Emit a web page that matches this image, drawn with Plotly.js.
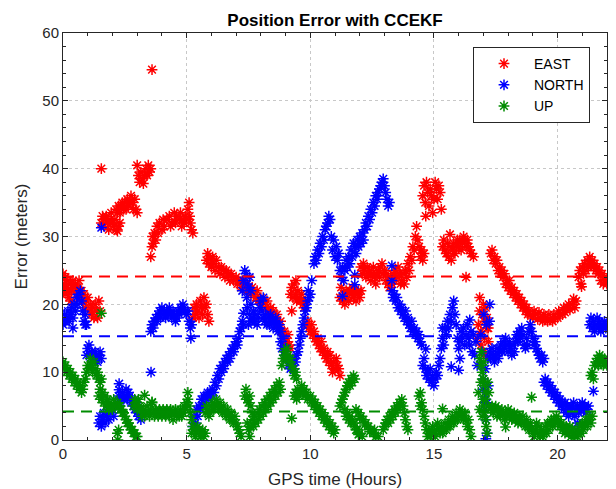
<!DOCTYPE html>
<html>
<head>
<meta charset="utf-8">
<script src="https://cdn.plot.ly/plotly-3.0.1.min.js"></script>
<style>html,body{margin:0;padding:0;background:#fff;}#chart{width:616px;height:489px;}</style>
</head>
<body>
<div id="chart"></div>
<script>
// ---- Data (time in hours, error in meters) ----
const seriesNames = ["EAST", "NORTH", "UP"];
const seriesColors = ["#ff0000", "#0000ff", "#008c00"];

const eastPts = [
[0.00,24.5],[0.05,23.0],[0.10,24.0],[0.15,22.5],[0.20,23.5],[0.25,21.0],[0.30,23.0],[0.35,22.0],[0.40,23.5],[0.45,22.5],[0.50,23.0],[0.55,21.5],[0.60,22.5],[0.65,23.5],[0.70,21.0],[0.75,22.0],[0.80,20.5],[0.85,21.5],[0.90,19.5],[0.95,20.5],[1.00,21.0],[1.05,19.0],[1.10,20.0],[1.15,18.5],[1.20,19.5],[1.25,18.0],[1.30,20.0],[1.35,19.0],[1.40,18.0],[1.45,20.5],[1.50,19.0],
[0.02,22.0],[0.12,21.5],[0.22,22.0],[0.32,20.5],
[1.55,40.0],
[1.55,32.0],[1.60,33.0],[1.65,31.5],[1.70,32.5],[1.75,33.0],[1.80,32.0],[1.85,31.0],[1.90,32.5],[1.95,33.5],[2.00,32.0],[2.05,31.5],[2.10,32.5],[2.15,31.0],[2.20,30.8],[2.25,31.5],[2.30,32.0],
[2.15,34.0],[2.20,33.5],[2.25,34.5],[2.30,33.5],[2.35,34.5],[2.40,35.0],[2.45,34.0],[2.50,35.0],[2.55,34.0],[2.60,35.5],[2.65,34.5],[2.70,35.0],[2.75,36.0],[2.80,35.0],[2.85,34.0],[2.90,35.5],[2.95,34.0],[3.00,33.5],
[3.00,40.5],[3.05,39.0],[3.10,38.0],[3.15,39.5],[3.20,38.5],[3.25,37.8],[3.30,39.0],[3.35,40.0],[3.40,39.0],[3.45,40.5],[3.50,39.5],[3.55,40.0],
[3.60,54.6],
[3.55,27.0],[3.60,28.5],[3.62,30.0],[3.65,29.0],[3.70,30.5],[3.75,29.5],[3.80,31.5],[3.85,30.5],[3.90,32.0],[4.00,31.0],[4.05,32.5],[4.10,31.5],[4.20,32.5],[4.30,33.0],[4.35,31.5],[4.40,32.0],[4.50,33.5],[4.55,32.0],[4.60,33.0],[4.70,32.5],[4.75,33.5],[4.80,31.5],[4.85,32.5],[4.90,32.0],[4.95,33.0],[5.00,32.5],[5.05,34.0],[5.10,35.0],[5.12,33.0],[5.15,32.0],[5.20,31.0],[5.25,30.5],
[5.25,18.0],[5.30,19.5],[5.35,18.5],[5.40,20.0],[5.45,19.0],[5.50,18.0],[5.55,20.5],[5.60,19.5],[5.65,18.5],[5.70,21.0],[5.75,19.5],[5.80,20.0],[5.85,18.5],[5.90,17.5],
[5.80,26.5],[5.85,27.5],[5.90,26.0],[5.95,26.8],[6.00,25.5],[6.05,27.0],[6.10,26.0],[6.15,25.0],[6.20,26.5],[6.30,25.5],[6.35,24.5],[6.40,25.5],[6.50,25.0],[6.55,24.0],[6.60,25.0],[6.70,24.5],[6.75,23.5],[6.80,24.5],[6.90,23.5],[7.00,24.0],[7.05,23.0],[7.10,23.5],[7.20,22.5],[7.25,23.5],[7.30,22.5],[7.40,23.0],[7.45,22.0],[7.50,22.5],[7.60,21.5],[7.65,22.5],[7.70,21.5],[7.80,21.0],[7.85,22.0],[7.90,20.5],[8.00,21.0],[8.05,20.0],[8.10,20.5],[8.20,19.5],[8.25,20.5],[8.30,19.0],[8.40,19.5],[8.45,18.5],[8.50,19.0],[8.60,18.0],[8.65,18.5],[8.70,17.0],[8.75,16.5],[8.80,17.5],[8.85,16.0],[8.90,15.5],[8.95,16.0],[9.00,14.5],[9.05,14.5],[9.10,15.5],[9.15,14.0],[9.20,13.5],
[9.20,21.5],[9.25,22.5],[9.30,21.0],[9.35,23.0],[9.40,21.5],[9.45,20.5],[9.50,22.0],[9.55,21.0],[9.60,20.5],[9.65,21.5],[9.70,20.0],[9.75,19.5],[9.80,20.5],[9.42,23.5],[9.25,19.0],
[9.85,17.0],[9.90,17.5],[9.95,16.5],[10.00,16.0],[10.05,17.0],[10.10,15.5],[10.15,16.0],[10.20,15.0],[10.25,14.5],[10.30,15.0],[10.35,14.0],[10.40,13.5],[10.45,14.5],[10.50,13.0],[10.55,13.5],[10.60,12.5],[10.65,12.0],[10.70,13.0],[10.75,11.5],[10.80,12.5],[10.85,11.0],[10.90,10.0],[10.95,11.5],[11.00,10.5],[11.05,12.0],[11.10,11.0],[11.15,10.5],[11.20,9.5],
[11.20,21.0],[11.25,22.5],[11.30,20.5],[11.35,21.5],[11.40,20.0],[11.45,22.0],[11.50,21.0],[11.55,20.5],[11.60,22.0],[11.65,21.5],[11.70,22.5],[11.75,21.0],[11.80,22.0],[11.85,20.5],[11.90,21.5],[11.95,22.0],[12.00,21.0],[12.05,22.0],
[12.05,25.5],[12.10,24.5],[12.15,26.0],[12.20,25.0],[12.25,24.0],[12.30,25.5],[12.35,24.5],[12.40,25.0],[12.45,23.5],[12.50,24.5],[12.55,25.5],[12.60,24.0],[12.65,23.0],[12.70,24.5],[12.75,25.0],[12.80,24.0],[12.85,25.5],[12.90,26.0],[12.95,24.5],[13.00,25.0],[13.05,23.5],[13.10,24.5],[13.15,23.0],[13.20,22.5],[13.25,24.0],[13.30,23.0],[13.35,24.5],[13.40,23.5],[13.45,25.0],[13.50,24.0],[13.55,25.5],[13.60,24.5],[13.65,23.0],[13.70,23.5],[13.75,24.5],[13.80,23.0],[13.85,25.0],[13.90,24.0],[13.95,26.0],[14.00,25.0],[14.05,27.0],[14.10,26.5],[14.15,28.5],[14.20,28.0],[14.25,30.0],[14.30,31.5],[14.35,29.5],[14.40,28.5],[14.45,27.0],[14.50,28.0],[14.55,26.5],[14.60,27.5],
[14.55,36.0],[14.60,37.5],[14.65,35.0],[14.70,38.0],[14.75,36.5],[14.80,34.5],[14.85,37.0],[14.90,36.0],[14.95,33.5],[15.00,35.5],[15.05,38.0],[15.10,37.0],[15.15,35.5],[15.20,37.5],[15.25,36.5],[15.30,34.0],[14.67,33.0],
[15.35,28.5],[15.40,29.5],[15.45,28.0],[15.50,27.5],[15.55,29.0],[15.60,27.0],[15.65,28.5],[15.70,26.5],[15.75,28.0],[15.80,29.0],[15.85,27.5],[15.90,28.5],[15.95,29.5],[16.00,28.5],[16.05,29.5],[16.10,28.0],[16.15,29.0],[16.20,30.0],[16.25,29.5],[16.30,28.5],[16.35,29.5],[16.40,28.5],[16.45,28.0],[16.50,27.5],[15.65,30.3],[16.30,24.0],[16.60,27.0],
[16.75,15.0],[16.80,17.0],[16.85,19.0],[16.90,16.0],[16.95,18.5],[17.00,20.0],[17.05,17.5],[17.10,19.5],[17.15,16.5],[17.20,14.5],[17.00,13.0],[16.90,14.0],[17.10,12.5],[17.05,15.0],[16.85,21.0],[17.15,18.0],[17.20,16.5],
[17.30,27.5],[17.35,28.0],[17.40,26.5],[17.45,27.0],[17.50,26.0],[17.55,26.5],[17.60,25.0],[17.65,25.5],[17.70,24.5],[17.75,25.0],[17.80,24.0],[17.85,24.5],[17.90,23.0],[17.95,23.5],[18.00,22.5],[18.05,23.5],[18.10,22.0],[18.15,22.5],[18.20,21.5],[18.25,22.0],[18.30,21.0],[18.35,21.5],[18.40,20.5],[18.45,21.0],[18.50,20.0],[18.55,20.5],[18.60,19.5],[18.65,20.0],[18.70,19.0],[18.75,19.5],[18.80,18.5],[18.85,19.0],[18.90,18.5],[19.00,18.0],[19.05,19.0],[19.10,18.5],[19.20,17.8],[19.25,18.8],[19.30,18.0],[19.40,17.5],[19.45,18.5],[19.50,18.0],[19.60,17.5],[19.65,18.5],[19.70,17.8],[19.80,17.5],[19.85,18.5],[19.90,18.0],[20.00,18.0],[20.05,19.0],[20.10,18.5],[20.20,18.5],[20.25,19.5],[20.30,18.8],[20.40,19.5],[20.45,20.0],[20.50,19.2],[20.60,20.0],[20.65,20.8],[20.70,19.5],[20.75,20.5],
[20.85,24.0],[20.90,25.0],[20.95,23.0],[21.00,25.5],[21.05,24.5],[21.10,26.0],[21.15,25.0],[21.20,26.5],[21.25,25.5],[21.30,27.0],[21.35,26.0],[21.40,26.5],[21.45,25.5],[21.50,26.0],[21.55,25.0],[21.60,25.5],[21.65,24.5],[21.70,25.0],[21.75,23.5],[21.80,24.5],[21.85,23.0],[21.90,24.0],[21.95,23.5],[22.00,23.0],[20.97,22.6]
];

const northPts = [
[0.00,17.0],[0.05,18.5],[0.10,17.5],[0.15,18.0],[0.20,19.0],[0.25,17.5],[0.30,18.5],[0.35,19.5],[0.40,18.0],[0.45,20.0],[0.50,19.0],[0.55,21.0],[0.60,20.0],[0.65,21.5],[0.70,22.0],[0.75,20.5],[0.80,19.0],[0.85,17.5],[0.90,18.5],[0.95,17.0],[0.40,16.5],[0.90,17.0],
[0.95,12.5],[1.00,13.5],[1.05,14.0],[1.10,12.5],[1.15,13.0],[1.20,11.5],[1.25,12.0],[1.30,13.0],[1.35,12.5],[1.40,11.5],[1.45,12.5],[1.50,13.0],[1.55,12.0],
[1.55,31.3],
[1.45,2.5],[1.50,3.5],[1.55,2.0],[1.60,3.0],[1.65,4.0],[1.70,2.5],[1.75,3.5],[1.80,4.5],[1.85,3.0],[1.90,4.0],[1.95,5.0],[2.00,4.5],[2.05,3.5],[2.10,5.0],
[2.20,5.5],[2.25,6.5],[2.30,5.0],[2.35,6.0],[2.40,7.0],[2.45,6.0],[2.50,6.5],[2.55,7.5],[2.60,6.0],[2.65,7.0],[2.70,6.5],[2.75,5.5],[2.80,6.0],[2.85,5.0],[2.90,4.5],[2.95,5.5],[3.00,4.0],[3.05,3.5],[3.10,4.5],[3.15,3.0],[2.27,8.3],[2.27,7.4],
[3.56,10.0],
[3.55,16.0],[3.60,17.0],[3.65,16.5],[3.70,17.5],[3.75,18.0],[3.80,17.5],[3.85,18.5],[3.90,19.0],[3.95,18.0],[4.00,19.5],[4.05,18.5],[4.10,19.0],[4.15,18.0],[4.20,19.0],[4.25,18.5],[4.30,19.5],[4.35,18.5],[4.40,18.0],[4.45,19.0],[4.50,18.5],[4.55,17.5],[4.60,18.0],[4.65,19.0],[4.70,18.5],[4.75,19.5],[4.80,19.0],[4.85,20.0],[4.90,19.5],[4.95,19.0],[5.00,18.5],[5.05,19.0],[5.10,17.5],[5.15,16.5],[5.20,17.0],[5.17,15.0],
[5.25,2.0],[5.30,3.5],[5.35,2.5],[5.40,4.5],[5.45,3.5],[5.50,5.0],[5.55,4.5],[5.60,6.0],[5.65,5.0],[5.70,6.5],[5.75,5.5],[5.80,6.5],[5.85,7.0],[5.90,6.0],[5.95,7.0],[6.00,6.5],[6.05,7.5],[6.10,7.0],[6.15,8.5],[6.20,8.0],[6.25,9.5],[6.30,9.0],[6.35,10.5],[6.40,10.0],[6.45,11.0],[6.50,10.5],[6.55,11.5],[6.60,12.0],[6.65,11.5],[6.70,12.5],[6.75,12.0],[6.80,13.0],[6.85,13.5],[6.90,13.0],[6.95,14.0],[7.00,14.5],[7.05,14.0],[7.10,15.0],[7.15,16.0],[7.20,16.5],[7.25,17.5],[7.30,17.0],
[7.25,22.0],[7.30,23.5],[7.35,25.0],[7.40,24.5],[7.45,23.0],[7.50,22.5],[7.55,24.0],[7.60,22.0],[7.43,21.0],[7.60,20.0],[7.30,18.7],[7.45,19.5],
[7.50,17.0],[7.55,18.5],[7.60,17.5],[7.65,18.0],[7.70,19.0],[7.75,17.5],[7.80,18.5],[7.85,17.0],[7.90,18.0],[7.95,19.5],[8.00,20.5],[8.05,19.0],[8.10,18.0],[8.15,17.5],[8.20,18.5],[8.25,17.0],[8.30,18.0],[8.35,17.0],[8.40,18.5],[8.45,17.5],[8.50,16.5],[8.55,17.5],[8.60,18.0],[8.65,17.0],[8.70,16.0],[8.75,17.0],[8.80,16.0],[8.10,21.0],
[8.80,14.5],[8.85,13.5],[8.90,15.0],[8.95,12.5],[9.00,13.5],[9.05,12.0],[9.10,11.0],[9.15,12.0],[9.20,10.5],[9.25,11.5],[9.30,12.0],[9.35,10.5],[9.40,11.5],[9.45,12.5],
[9.50,13.0],[9.55,14.0],[9.60,15.0],[9.65,16.0],[9.70,17.0],[9.75,18.0],[9.80,19.0],[9.85,19.5],[9.90,20.5],[9.95,21.0],[10.00,21.5],[9.92,22.0],[10.06,23.5],
[10.15,26.0],[10.20,27.0],[10.25,26.5],[10.30,28.0],[10.35,27.5],[10.40,29.0],[10.45,28.5],[10.50,30.0],[10.55,29.5],[10.60,31.0],[10.65,31.5],[10.70,32.0],[10.75,33.0],[10.80,32.5],
[10.85,30.0],[10.90,28.0],[10.95,29.5],[11.00,27.0],[11.05,28.5],[11.10,26.5],[11.15,27.5],[11.20,25.0],[11.25,24.0],[11.30,25.5],[11.35,23.5],[11.40,25.0],[11.45,26.5],[11.50,25.5],[11.55,27.0],[11.60,26.0],[11.65,28.0],[11.70,27.0],[11.75,29.0],[11.80,28.5],[11.85,27.5],[11.90,29.5],[11.95,28.5],[12.00,30.0],[12.05,29.0],[12.10,30.5],[12.15,29.5],[12.20,31.0],[11.30,21.2],[11.80,24.3],[11.80,22.9],
[12.25,32.0],[12.30,31.5],[12.35,33.0],[12.40,32.5],[12.45,34.0],[12.50,33.5],[12.55,35.0],[12.60,34.5],[12.65,36.0],[12.70,35.5],[12.75,36.5],[12.80,37.0],[12.85,37.5],[12.90,38.0],[12.95,38.5],[13.00,37.5],[13.05,36.5],[13.10,35.5],[13.15,34.5],[13.20,35.0],
[13.30,25.7],[13.30,23.5],
[13.30,22.0],[13.35,21.0],[13.40,21.5],[13.45,20.5],[13.50,21.0],[13.55,19.5],[13.60,20.0],[13.65,19.0],[13.70,19.5],[13.75,18.5],[13.80,18.0],[13.85,19.0],[13.90,17.5],[13.95,18.0],[14.00,17.0],[14.05,16.5],[14.10,17.5],[14.15,16.0],[14.20,16.5],[14.25,15.5],[14.30,16.0],[14.35,15.0],[14.40,15.5],[14.45,14.5],[14.50,14.0],
[14.55,11.0],[14.60,12.0],[14.65,10.5],[14.70,9.5],[14.75,10.0],[14.80,9.0],[14.85,10.5],[14.90,8.5],[14.95,9.5],[15.00,8.0],[15.05,9.0],[15.10,10.0],[15.15,9.5],[15.20,11.0],[14.67,13.4],
[15.25,12.0],[15.30,13.5],[15.35,15.0],[15.40,14.0],[15.45,16.5],[15.50,15.5],[15.55,17.5],[15.60,16.5],[15.65,18.5],[15.70,17.5],[15.75,19.5],[15.80,20.5],[15.85,18.5],[15.90,17.0],[15.95,15.0],[16.00,13.5],[16.05,12.0],[15.35,16.5],[15.70,10.8],[16.00,10.3],
[16.05,14.5],[16.10,16.0],[16.15,15.0],[16.20,16.5],[16.25,14.0],[16.30,15.5],[16.35,17.0],[16.40,15.0],[16.45,14.0],[16.50,16.0],[16.55,13.0],[16.60,15.5],[16.65,12.5],[16.70,14.5],[16.75,11.0],[16.45,17.7],[17.26,20.0],
[16.90,15.5],[16.95,13.0],[17.00,9.0],[17.05,6.0],[17.10,3.0],[17.15,1.0],[17.10,0.2],[17.05,4.5],[16.98,7.5],[17.12,17.0],[17.02,18.5],[16.92,11.0],[17.08,10.5],[17.18,12.0],[17.20,8.0],[17.15,5.5],[17.25,17.5],
[17.25,13.0],[17.30,12.0],[17.35,13.5],[17.40,12.5],[17.45,11.5],[17.50,12.5],[17.55,13.5],[17.60,12.0],[17.65,13.0],[17.70,14.0],[17.75,13.0],[17.80,14.5],[17.85,13.5],[17.90,15.0],[17.95,14.0],[18.00,13.0],[18.05,14.5],[18.10,13.5],[18.15,12.5],[18.20,14.0],[18.25,13.0],[18.30,14.5],[18.35,15.5],[18.40,14.5],[18.45,16.0],[18.50,15.0],[18.55,16.5],[18.60,15.5],[18.65,14.0],[18.70,13.5],[18.75,15.0],[18.80,14.0],[18.85,16.0],[18.90,17.0],[18.95,16.0],[19.00,15.0],[19.05,14.0],[19.10,14.5],[19.15,13.5],[19.20,13.0],[19.25,12.5],[19.30,12.0],[19.35,12.5],[19.40,11.5],[19.45,12.0],
[19.45,8.5],[19.50,9.0],[19.55,8.0],[19.60,8.5],[19.65,7.5],[19.70,8.0],[19.75,7.0],[19.80,7.5],[19.85,6.5],[19.90,7.0],[19.95,6.0],[20.00,6.5],[20.05,5.5],[20.10,6.0],[20.15,5.0],[20.20,5.5],[20.25,4.5],[20.30,5.5],[20.35,4.0],[20.40,5.0],[20.45,3.5],[20.50,4.5],[20.55,5.0],[20.60,4.0],[20.65,5.5],[20.70,3.5],[20.75,4.5],[20.80,5.0],[20.85,4.0],[20.90,5.0],[20.95,4.5],[21.00,5.5],[21.05,4.5],[21.10,5.0],[21.15,4.0],[21.20,4.5],[21.25,5.0],[20.80,2.5],
[21.45,7.2],
[21.30,17.0],[21.35,18.0],[21.40,16.5],[21.45,17.5],[21.50,16.0],[21.55,17.0],[21.60,18.0],[21.65,16.5],[21.70,17.5],[21.75,16.0],[21.80,17.0],[21.85,16.5],[21.90,17.5],[21.95,16.5],[22.00,17.0]
];

const upPts = [
[0.00,11.5],[0.05,10.5],[0.10,11.0],[0.15,10.0],[0.20,10.5],[0.25,9.5],[0.30,10.0],[0.35,9.0],[0.40,9.5],[0.45,8.5],[0.50,9.0],[0.55,8.0],[0.60,8.5],[0.65,7.5],[0.70,8.0],[0.75,7.0],[0.80,7.5],[0.85,8.5],
[0.90,9.0],[0.95,10.0],[1.00,11.0],[1.05,10.5],[1.10,12.0],[1.15,11.0],[1.20,10.0],[1.25,11.5],[1.30,10.5],[1.35,9.5],[1.40,10.0],[1.45,9.0],[1.50,8.5],[1.55,9.0],
[1.55,18.7],
[1.45,6.5],[1.50,7.5],[1.55,6.0],[1.60,7.0],[1.65,5.5],[1.70,6.5],[1.75,5.0],[1.80,6.0],[1.85,4.5],[1.90,5.5],[1.95,5.0],[2.00,4.5],[2.05,6.0],[2.10,5.0],
[2.20,5.5],[2.25,5.0],[2.30,5.0],[2.35,4.5],[2.40,4.0],[2.45,4.0],[2.50,3.5],[2.55,3.0],[2.60,2.5],[2.65,2.5],[2.70,2.0],[2.75,1.5],[2.80,1.5],[2.85,1.0],[2.90,1.0],[2.95,0.5],[3.00,0.5],
[2.20,1.0],[2.22,0.0],[2.25,1.5],
[2.85,5.0],[2.90,6.0],[2.95,5.0],[3.00,4.5],[3.05,6.0],[3.10,5.0],[3.15,4.5],[3.20,3.5],[3.25,4.5],[3.30,3.5],[3.35,4.0],[3.40,5.0],[3.45,4.0],[3.50,3.5],[3.55,4.5],[3.60,5.5],[3.65,4.0],[3.70,3.5],[3.75,4.5],[3.80,4.0],[3.85,3.5],[3.90,4.5],[3.95,4.0],[4.00,3.5],[4.05,4.5],[4.10,4.0],[4.15,3.5],[4.20,4.5],[4.25,4.0],[4.30,3.5],[4.35,4.5],[4.40,4.0],[4.45,3.0],[4.50,4.0],[4.55,4.5],[4.60,3.5],[4.65,4.0],[4.70,3.5],[4.75,4.5],[4.80,3.5],[4.85,4.0],[4.90,5.0],[4.95,4.5],[5.00,5.5],[5.05,6.0],[5.10,5.0],[5.15,4.0],[5.20,3.0],[3.30,6.6],[3.60,5.6],[5.05,7.0],
[5.20,1.0],[5.25,2.0],[5.30,1.5],[5.35,0.5],[5.40,1.0],[5.45,2.0],[5.50,1.5],[5.55,0.5],[5.60,1.0],[5.65,1.5],[5.70,0.5],[5.75,1.0],
[5.75,4.0],[5.80,5.0],[5.85,4.5],[5.90,3.5],[5.95,4.0],[6.00,5.0],[6.05,5.5],[6.10,4.5],[6.15,5.0],[6.20,6.0],[6.25,5.0],[6.30,4.5],[6.35,5.5],[6.40,4.5],[6.45,4.0],[6.50,5.0],[6.55,4.0],[6.60,3.5],[6.65,4.5],[6.70,3.5],[6.75,3.0],[6.80,4.0],[6.85,3.0],[6.90,2.5],[6.95,3.5],[7.00,2.5],[7.05,2.0],[7.10,1.5],[7.15,1.0],[7.20,0.5],
[7.35,6.5],[7.40,7.5],[7.45,6.0],[7.50,5.5],[7.55,6.5],[7.60,5.0],[7.65,4.0],[7.45,2.5],[7.50,1.5],[7.55,0.5],
[7.60,2.0],[7.65,3.0],[7.70,2.0],[7.75,3.5],[7.80,2.5],[7.85,4.0],[7.90,3.0],[7.95,4.5],[8.00,3.5],[8.05,5.0],[8.10,4.0],[8.15,5.5],[8.20,4.5],[8.25,6.0],[8.30,5.0],[8.35,6.5],[8.40,5.5],[8.45,7.0],[8.50,6.0],[8.55,7.5],[8.60,6.5],[8.65,8.0],[8.70,7.0],[8.75,8.5],[8.80,7.5],
[8.85,11.0],[8.90,12.0],[8.95,13.0],[9.00,12.0],[9.05,13.5],[9.10,12.5],[9.15,11.5],[9.20,12.0],[9.25,11.0],[9.30,10.5],[9.35,9.5],[9.40,10.0],[9.45,9.0],
[9.25,3.2],
[9.35,6.5],[9.40,7.0],[9.45,6.0],[9.50,7.5],[9.55,6.5],[9.60,7.0],[9.65,8.0],[9.70,7.0],[9.75,7.5],[9.80,6.5],[9.85,7.0],[9.90,6.0],
[10.00,6.5],[10.05,5.5],[10.10,6.0],[10.15,5.0],[10.20,5.5],[10.25,4.5],[10.30,5.0],[10.35,4.0],[10.40,4.5],[10.45,3.5],[10.50,4.0],[10.55,3.0],[10.60,3.5],[10.65,2.5],[10.70,3.0],[10.75,2.0],[10.80,2.5],[10.85,1.5],[10.90,2.0],[10.95,1.0],[11.00,1.5],
[11.20,5.0],[11.25,5.5],[11.30,6.0],[11.35,6.5],[11.40,7.0],[11.45,7.5],[11.50,8.0],[11.55,8.5],[11.60,8.0],[11.65,9.0],[11.70,8.5],[11.75,9.5],[11.80,9.0],
[11.40,4.5],[11.50,4.0],[11.60,3.5],[11.70,3.0],[11.80,2.0],[11.90,1.5],[12.00,1.0],[12.10,0.5],[11.45,3.5],[11.55,3.0],[11.65,2.5],[11.75,2.5],[11.85,1.5],[11.95,0.8],
[11.85,4.5],[11.95,4.0],[12.05,3.5],[12.15,3.0],[12.25,2.5],[12.35,2.0],[12.45,1.5],[12.55,1.0],[12.65,0.5],[12.75,0.5],[12.00,3.2],[12.20,2.2],[12.40,1.2],[12.60,1.5],
[12.95,1.5],[13.00,2.0],[13.05,2.5],[13.10,3.0],[13.15,2.5],[13.20,3.5],[13.25,3.0],[13.30,4.0],[13.35,3.5],[13.40,4.5],[13.45,4.0],[13.50,5.0],[13.55,4.5],[13.60,5.5],[13.65,5.0],[13.70,6.0],[13.75,5.0],[13.80,4.0],[13.85,3.0],[13.90,2.0],[13.95,1.5],
[14.40,6.5],[14.45,7.0],[14.50,5.5],[14.55,4.5],[14.60,3.5],[14.65,2.5],[14.70,1.5],[14.75,0.5],[14.45,5.0],
[14.80,1.5],[14.85,0.5],[14.90,1.0],[14.95,2.0],[15.00,1.0],[15.05,0.5],[15.10,1.5],[15.15,2.5],[15.20,1.5],[15.25,1.0],[15.30,2.0],[15.35,1.0],[15.40,1.5],[15.45,2.5],[15.50,1.5],[15.55,2.0],[15.60,3.0],[15.65,2.0],[15.70,2.5],[15.75,3.5],[15.80,2.5],[15.85,3.0],[15.90,4.0],[15.95,3.0],[16.00,3.5],[16.05,4.5],[16.10,3.5],[16.15,4.0],[16.20,3.0],[16.25,4.0],[16.30,3.0],[16.35,2.0],[16.40,3.0],[16.45,1.5],[15.35,4.6],[16.50,0.5],
[16.85,12.0],[16.90,11.0],[16.92,13.0],[16.95,10.0],[17.00,9.0],[17.02,11.5],[17.05,8.0],[17.08,7.0],[16.98,6.0],[17.00,5.0],[17.05,4.0],[17.10,3.0],[17.12,2.0],[17.15,1.0],[16.95,3.5],[17.10,6.0],[17.18,8.5],[17.20,5.0],[17.22,7.0],[16.80,7.0],[16.85,4.5],[16.90,8.5],
[17.30,4.5],[17.35,5.0],[17.40,4.0],[17.45,4.5],[17.50,5.0],[17.55,3.5],[17.60,4.5],[17.65,4.0],[17.70,3.5],[17.75,4.5],[17.80,4.0],[17.85,3.0],[17.90,4.0],[17.95,3.5],[18.00,4.5],[18.05,3.5],[18.10,4.0],[18.15,3.0],[18.20,3.5],[18.25,4.0],[18.30,3.0],[18.35,3.5],[18.40,2.5],[18.45,3.5],[18.50,3.0],[18.55,2.5],[18.60,3.5],[18.65,2.5],[18.70,2.0],[18.75,3.0],[18.80,2.0],[18.85,1.5],[18.90,2.5],[18.95,1.5],[19.00,1.0],[18.95,6.3],[17.90,1.9],
[19.05,0.5],[19.10,1.5],[19.15,2.5],[19.20,1.0],[19.25,2.0],[19.30,0.5],[19.35,1.5],[19.40,0.5],[19.45,1.0],[19.50,2.0],[19.55,1.0],[19.60,2.5],[19.65,1.5],[19.70,2.5],[19.75,3.0],[19.80,2.0],[19.85,3.0],[19.90,2.5],[19.95,3.5],[20.00,2.5],[20.05,3.0],[20.10,2.0],
[20.15,2.5],[20.20,1.5],[20.25,2.0],[20.30,1.0],[20.35,2.0],[20.40,1.5],[20.45,1.0],[20.50,2.0],[20.55,0.5],[20.60,1.5],[20.65,1.0],[20.70,0.5],[20.75,1.5],[20.80,0.5],[20.85,1.0],[20.90,2.0],[20.95,1.0],[21.00,2.5],[21.05,1.5],[21.10,2.5],[21.15,3.0],[21.20,2.0],[21.25,3.0],[21.30,3.5],[21.35,2.5],[21.40,3.5],
[21.35,9.5],[21.40,10.0],[21.45,9.0],[21.50,11.0],[21.55,11.5],[21.60,12.0],[21.65,11.0],[21.70,12.5],[21.75,11.5],[21.80,12.0],[21.85,11.0],[21.90,12.0],[21.95,11.5],[22.00,11.0]
];

// Mean error lines (dashed)
const meanValues = [24.1, 15.3, 4.2];
const meanSpan = [0, 22];

const xTicks = [0, 5, 10, 15, 20];
const yTicks = [0, 10, 20, 30, 40, 50, 60];

// ---- Build traces ----
const allPts = [eastPts, northPts, upPts];
const traces = [];
allPts.forEach((pts, i) => {
  traces.push({
    type: 'scatter', mode: 'markers', name: seriesNames[i],
    x: pts.map(p => p[0]), y: pts.map(p => p[1]),
    marker: {symbol: 'asterisk-open', size: 9, color: seriesColors[i],
             line: {color: seriesColors[i], width: 1.5}},
    hoverinfo: 'skip'
  });
});
meanValues.forEach((m, i) => {
  traces.push({
    type: 'scatter', mode: 'lines', showlegend: false,
    x: meanSpan, y: [m, m],
    line: {color: seriesColors[i], width: 2, dash: '11px,7px'},
    hoverinfo: 'skip'
  });
});

const axisCommon = {
  showline: true, linecolor: '#262626', linewidth: 1, mirror: 'allticks',
  ticks: 'inside', ticklen: 5, tickcolor: '#262626', tickwidth: 1,
  showgrid: true, gridcolor: '#c8c8c8', griddash: 'dot', gridwidth: 1,
  zeroline: false, automargin: false,
  tickfont: {size: 15, color: '#262626', family: 'Liberation Sans, Arial, sans-serif'}
};

const layout = {
  width: 616, height: 489,
  margin: {l: 63, r: 9, t: 33, b: 49},
  paper_bgcolor: '#ffffff', plot_bgcolor: '#ffffff',
  font: {family: 'Liberation Sans, Arial, sans-serif', color: '#262626'},
  title: {text: '<b>Position Error with CCEKF</b>', x: 0.5, xref: 'paper', xanchor: 'center',
          y: 1 - 20/489, yref: 'container', yanchor: 'middle',
          font: {size: 17, color: '#000000'}},
  xaxis: Object.assign({}, axisCommon, {
    range: [0, 22], tickvals: xTicks, ticktext: xTicks.map(String),
    minor: {dtick: 1, tick0: 0, ticks: 'inside', ticklen: 3, tickcolor: '#262626', showgrid: false},
    title: {text: 'GPS time (Hours)', font: {size: 17, color: '#262626'}, standoff: 13}
  }),
  yaxis: Object.assign({}, axisCommon, {
    range: [0, 60], tickvals: yTicks, ticktext: yTicks.map(String),
    minor: {dtick: 2, tick0: 0, ticks: 'inside', ticklen: 3, tickcolor: '#262626', showgrid: false},
    title: {text: 'Error (meters)', font: {size: 17, color: '#262626'}, standoff: 10}
  }),
  legend: {
    x: (473-63)/544, y: (440-47)/407, xanchor: 'left', yanchor: 'top',
    bgcolor: '#ffffff', bordercolor: '#262626', borderwidth: 1,
    font: {size: 14, color: '#000000'}, itemwidth: 50, tracegroupgap: 0
  },
  showlegend: true
};

Plotly.newPlot('chart', traces, layout, {displayModeBar: false, staticPlot: true});
</script>
</body>
</html>
